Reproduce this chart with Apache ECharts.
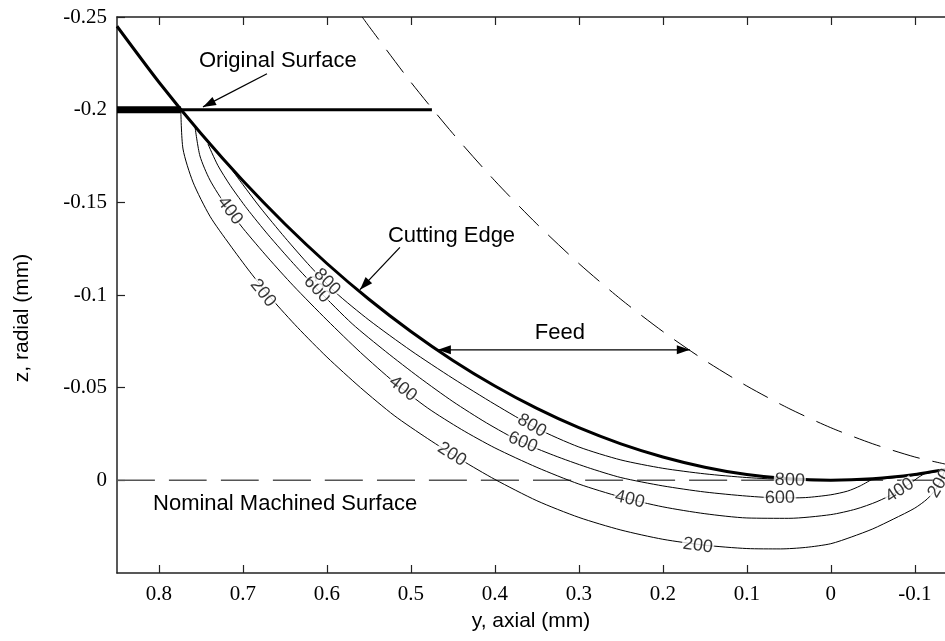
<!DOCTYPE html>
<html>
<head>
<meta charset="utf-8">
<script src="https://cdn.jsdelivr.net/npm/echarts@6/dist/echarts.min.js"></script>
<style>
  html, body { margin: 0; padding: 0; background: #fff; }
  #main { width: 945px; height: 641px; }
</style>
</head>
<body>
<div id="main"></div>
<script>
// Axis ticks (mm)
const xTicks = [0.8, 0.7, 0.6, 0.5, 0.4, 0.3, 0.2, 0.1, 0, -0.1];
const yTicks = [-0.25, -0.2, -0.15, -0.1, -0.05, 0];

// Tool nose profile at the current pass: [y axial, z radial] in mm
const cuttingEdge = [
  [0.85, -0.245], [0.80, -0.2148], [0.75, -0.1871], [0.70, -0.1616], [0.65, -0.1383],
  [0.60, -0.1170], [0.55, -0.0977], [0.50, -0.0803], [0.45, -0.0647], [0.40, -0.0509],
  [0.35, -0.0388], [0.30, -0.0284], [0.25, -0.0197], [0.20, -0.0126], [0.15, -0.0071],
  [0.10, -0.0031], [0.05, -0.0008], [0, 0], [-0.05, -0.0008], [-0.10, -0.0031], [-0.136, -0.0058]
];

// Tool nose profile one feed earlier
const previousEdge = [
  [0.558, -0.25], [0.55, -0.245], [0.50, -0.2148], [0.45, -0.1871], [0.40, -0.1616],
  [0.35, -0.1383], [0.30, -0.1170], [0.25, -0.0977], [0.20, -0.0803], [0.15, -0.0647],
  [0.10, -0.0509], [0.05, -0.0388], [0, -0.0284], [-0.05, -0.0197], [-0.10, -0.0126],
  [-0.136, -0.0088]
];

// Uncut surface and the part of it still ahead of the edge
const originalSurface = [[0.85, -0.2], [0.475, -0.2]];
const uncutBand = [[0.85, -0.2], [0.774, -0.2]];
const nominalSurface = [[0.85, 0], [-0.136, 0]];

// Contour levels
const contour200 = [
  [0.774, -0.2000], [0.7714, -0.1788], [0.7595, -0.1609], [0.7393, -0.1425], [0.7155, -0.1270],
  [0.6917, -0.1125], [0.665, -0.0975], [0.635, -0.0825], [0.60, -0.0665], [0.56, -0.0500],
  [0.52, -0.0350], [0.48, -0.0225], [0.44, -0.0110], [0.40, -0.0005], [0.35, 0.0110],
  [0.30, 0.0200], [0.25, 0.0268], [0.20, 0.0318], [0.15, 0.0350], [0.10, 0.0368],
  [0.06, 0.0370], [0.03, 0.0362], [0.00, 0.0342], [-0.025, 0.0305], [-0.05, 0.0262],
  [-0.075, 0.0208], [-0.10, 0.0150], [-0.115, 0.0100], [-0.125, 0.0048], [-0.131, 0.0002],
  [-0.1357, -0.0054]
];
const contour400 = [
  [0.7571, -0.1907], [0.7512, -0.1750], [0.7393, -0.1620], [0.72, -0.1480], [0.70, -0.1360],
  [0.67, -0.1200], [0.64, -0.1050], [0.60, -0.0865], [0.56, -0.0690], [0.52, -0.0530],
  [0.48, -0.0390], [0.44, -0.0275], [0.40, -0.0175], [0.35, -0.0070], [0.30, 0.0020],
  [0.25, 0.0090], [0.20, 0.0143], [0.15, 0.0180], [0.10, 0.0203], [0.05, 0.0205],
  [0.00, 0.0185], [-0.03, 0.0155], [-0.055, 0.0115], [-0.08, 0.0060], [-0.095, 0.0015],
  [-0.105, -0.0018], [-0.1143, -0.0043]
];
const contour600 = [
  [0.7417, -0.1815], [0.73, -0.1700], [0.715, -0.1590], [0.695, -0.1465], [0.67, -0.1325],
  [0.64, -0.1170], [0.61, -0.1025], [0.57, -0.0845], [0.53, -0.0695], [0.49, -0.0555],
  [0.45, -0.0425], [0.41, -0.0310], [0.37, -0.0210], [0.33, -0.0135], [0.29, -0.0070],
  [0.25, -0.0015], [0.20, 0.0030], [0.15, 0.0063], [0.10, 0.0085], [0.06, 0.0095],
  [0.03, 0.0093], [0.00, 0.0078], [-0.02, 0.0058], [-0.035, 0.0030], [-0.05, -0.0008]
];
const contour800 = [
  [0.7155, -0.1690], [0.70, -0.1595], [0.68, -0.1475], [0.65, -0.1310], [0.62, -0.1155],
  [0.59, -0.1015], [0.55, -0.0865], [0.50, -0.0700], [0.45, -0.0550], [0.40, -0.0410],
  [0.35, -0.0280], [0.30, -0.0180], [0.25, -0.0110], [0.20, -0.0065], [0.15, -0.0035],
  [0.10, -0.0015], [0.05, -0.0003], [0.02, 0.0002], [-0.05, -0.0004], [-0.10, -0.0027],
  [-0.136, -0.0056]
];

// Contour labels: [y, z, level]
const contourLabels = [
  [0.7155, -0.1455, '400'], [0.6762, -0.1010, '200'], [0.6119, -0.1030, '600'], [0.600, -0.1070, '800'],
  [0.5095, -0.0494, '400'], [0.4512, -0.0140, '200'], [0.3667, -0.0205, '600'], [0.3560, -0.0295, '800'],
  [0.2393, 0.0103, '400'], [0.1583, 0.0352, '200'], [0.0607, 0.0095, '600'], [0.0488, 0.0, '800'],
  [-0.0821, 0.0054, '400'], [-0.1298, 0.0016, '200']
];

// Callout texts and arrows, anchored in data coordinates
const noteTexts = ['Original Surface', 'Cutting Edge', 'Feed', 'Nominal Machined Surface'];
const noteAnchors = [[0.7524, -0.2264], [0.5274, -0.1316], [0.3226, -0.0796], [0.8071, 0.0125]];
const noteAlign = ['left', 'left', 'center', 'left'];
const arrowFrom = [[0.6714, -0.2194], [0.5131, -0.1257], [0.4679, -0.0704]];
const arrowTo = [[0.7476, -0.2015], [0.5607, -0.1029], [0.1679, -0.0704]];
const arrowDouble = [false, false, true];

const SANS = '"Liberation Sans", Arial, Helvetica, sans-serif';
const SERIF = '"Liberation Serif", "Times New Roman", serif';
const AXIS_COLOR = '#222';

const chart = echarts.init(document.getElementById('main'), null, { renderer: 'canvas' });

function line(data, style, z) {
  return {
    type: 'line', data: data, symbol: 'none', showSymbol: false,
    smooth: 0.25, animation: false, silent: true, z: z || 2,
    lineStyle: Object.assign({ color: '#000', width: 1 }, style)
  };
}

const contourMap = { '200': contour200, '400': contour400, '600': contour600, '800': contour800 };

const option = {
  animation: false,
  backgroundColor: '#fff',
  grid: { left: 117, top: 17, right: 0, bottom: 68, containLabel: false, outerBoundsMode: 'none' },
  xAxis: [
    {
      type: 'value', position: 'bottom', inverse: true, min: -0.136, max: 0.85,
      axisLine: { show: true, onZero: false, lineStyle: { color: AXIS_COLOR, width: 1.5 } },
      axisTick: { show: true, inside: true, length: 8, customValues: xTicks, lineStyle: { color: AXIS_COLOR, width: 1.2 } },
      axisLabel: { show: true, customValues: xTicks, margin: 11, color: '#000', fontFamily: SERIF, fontSize: 21,
                   formatter: v => String(v) },
      splitLine: { show: false },
      name: 'y, axial (mm)', nameLocation: 'middle', nameGap: 38,
      nameTextStyle: { fontFamily: SANS, fontSize: 21, color: '#000' }
    },
    {
      type: 'value', position: 'top', inverse: true, min: -0.136, max: 0.85,
      axisLine: { show: true, onZero: false, lineStyle: { color: AXIS_COLOR, width: 1.5 } },
      axisTick: { show: true, inside: true, length: 8, customValues: xTicks, lineStyle: { color: AXIS_COLOR, width: 1.2 } },
      axisLabel: { show: false },
      splitLine: { show: false }
    }
  ],
  yAxis: {
    type: 'value', inverse: true, min: -0.25, max: 0.05,
    axisLine: { show: true, onZero: false, lineStyle: { color: AXIS_COLOR, width: 1.5 } },
    axisTick: { show: true, inside: true, length: 8, customValues: yTicks, lineStyle: { color: AXIS_COLOR, width: 1.2 } },
    axisLabel: { show: true, customValues: yTicks, margin: 10, color: '#000', fontFamily: SERIF, fontSize: 21,
                 formatter: v => String(v) },
    splitLine: { show: false }
  },
  series: [
    line(nominalSurface, { color: '#555', width: 1.5, type: [38, 14] }, 1),
    line(contour200, { width: 1 }),
    line(contour400, { width: 1 }),
    line(contour600, { width: 1 }),
    line(contour800, { width: 1 }),
    line(previousEdge, { width: 1, type: [28, 13] }),
    line(uncutBand, { width: 7 }, 3),
    line(originalSurface, { width: 3 }, 3),
    line(cuttingEdge, { width: 3 }, 4),
    {
      type: 'scatter', symbolSize: 1, silent: true, animation: false, z: 6,
      itemStyle: { color: 'rgba(0,0,0,0)' },
      data: contourLabels.map(d => ({ value: [d[0], d[1]], name: d[2] })),
      label: {
        show: true, position: 'inside', formatter: p => p.name,
        fontFamily: SANS, fontSize: 18, color: '#000',
        backgroundColor: '#fff', padding: [0, 1], lineHeight: 15
      }
    }
  ]
};

chart.setOption(option);

const toPx = p => chart.convertToPixel({ xAxisIndex: 0, yAxisIndex: 0 }, p);

// Rotate each contour label along its line
function labelAngle(levelLine, pt) {
  const c = toPx(pt);
  let best = null, bestD = Infinity;
  for (let i = 0; i < levelLine.length - 1; i++) {
    const a = toPx(levelLine[i]), b = toPx(levelLine[i + 1]);
    const mx = (a[0] + b[0]) / 2, my = (a[1] + b[1]) / 2;
    const d = (mx - c[0]) ** 2 + (my - c[1]) ** 2;
    if (d < bestD) { bestD = d; best = [a, b]; }
  }
  let dx = best[1][0] - best[0][0], dy = best[1][1] - best[0][1];
  if (dx < 0) { dx = -dx; dy = -dy; }
  return -Math.atan2(dy, dx) * 180 / Math.PI;
}

const labelData = contourLabels.map(d => ({
  value: [d[0], d[1]], name: d[2],
  label: { rotate: labelAngle(contourMap[d[2]], [d[0], d[1]]) }
}));

// Callouts
const graphics = [];
noteTexts.forEach((t, i) => {
  const p = toPx(noteAnchors[i]);
  graphics.push({
    type: 'text', x: p[0], y: p[1], z: 20, silent: true,
    style: { text: t, fill: '#000', font: '22px ' + SANS, textAlign: noteAlign[i], textVerticalAlign: 'middle' }
  });
});

function arrowHead(tip, from) {
  const ang = Math.atan2(tip[1] - from[1], tip[0] - from[0]);
  const L = 13, W = 4.5;
  const bx = tip[0] - L * Math.cos(ang), by = tip[1] - L * Math.sin(ang);
  const nx = -Math.sin(ang) * W, ny = Math.cos(ang) * W;
  return {
    type: 'polygon', z: 20, silent: true,
    shape: { points: [[tip[0], tip[1]], [bx + nx, by + ny], [bx - nx, by - ny]] },
    style: { fill: '#000' }
  };
}

arrowFrom.forEach((f, i) => {
  const a = toPx(f), b = toPx(arrowTo[i]);
  graphics.push({
    type: 'line', z: 20, silent: true,
    shape: { x1: a[0], y1: a[1], x2: b[0], y2: b[1] },
    style: { stroke: '#000', lineWidth: 1.3 }
  });
  graphics.push(arrowHead(b, a));
  if (arrowDouble[i]) graphics.push(arrowHead(a, b));
});

// Vertical axis title
graphics.push({
  type: 'text', x: 22, y: 318, rotation: Math.PI / 2, z: 20, silent: true,
  style: { text: 'z, radial (mm)', fill: '#000', font: '21px ' + SANS, textAlign: 'center', textVerticalAlign: 'middle' }
});

chart.setOption({
  series: [{}, {}, {}, {}, {}, {}, {}, {}, {}, { data: labelData }],
  graphic: graphics
});
</script>
</body>
</html>
